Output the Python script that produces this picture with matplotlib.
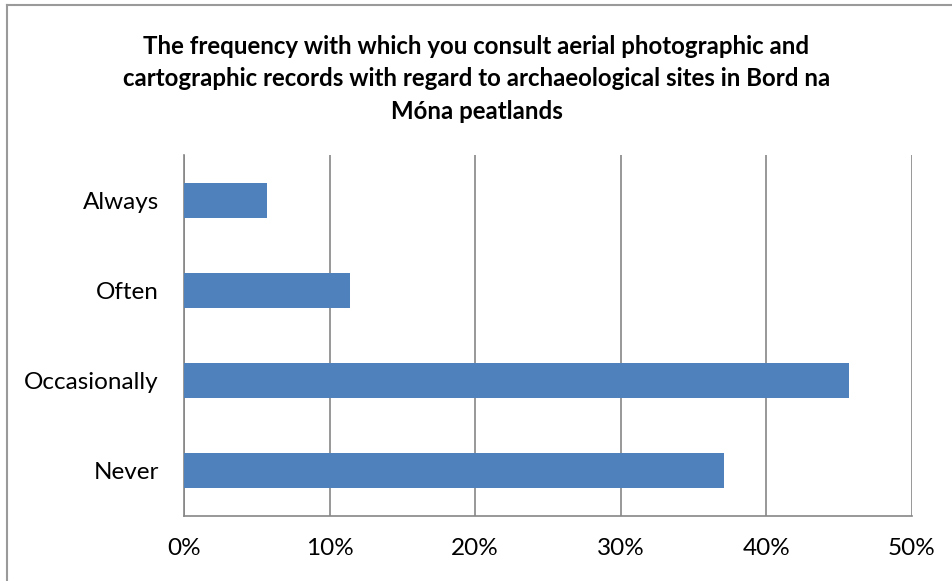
import matplotlib.pyplot as plt
from matplotlib.lines import Line2D
from matplotlib.ticker import PercentFormatter

# survey answers, share of respondents (%)
categories = ['Never', 'Occasionally', 'Often', 'Always']
shares = [37.1, 45.7, 11.4, 5.7]
xticks = [0, 10, 20, 30, 40, 50]

title = ('The frequency with which you consult aerial photographic and\n'
         'cartographic records with regard to archaeological sites in Bord na\n'
         'Móna peatlands')

plt.rcParams['font.family'] = ['Lato', 'DejaVu Sans']

W, H = 953, 581
fig = plt.figure(figsize=(W / 100, H / 100), dpi=100)
ax = fig.add_axes([184 / W, 1 - 516 / H, (912 - 184) / W, (516 - 155) / H])

ax.barh(categories, shares, height=0.39, color='#4F81BD', zorder=3)
ax.set_xlim(0, 50)
ax.set_ylim(-0.5, len(categories) - 0.5)
ax.set_xticks(xticks)
ax.xaxis.set_major_formatter(PercentFormatter(decimals=0))
ax.grid(axis='x', color='#868686', linewidth=1.2, zorder=0)

for s in ['top', 'right']:
    ax.spines[s].set_visible(False)
for s in ['left', 'bottom']:
    ax.spines[s].set_color('#868686')
    ax.spines[s].set_linewidth(1.2)

ax.tick_params(axis='both', length=0, labelsize=17.5, colors='black')
ax.tick_params(axis='x', pad=16)
ax.tick_params(axis='y', pad=18)

fig.text(0.5, 1 - 79 / H, title, ha='center', va='center', fontsize=17.3,
         fontweight='bold', linespacing=1.5)

# chart border (partly cropped in the original)
fig.add_artist(Line2D([7 / W, 7 / W], [0, 1 - 5 / H], color='#9a9a9a', lw=1.5))
fig.add_artist(Line2D([7 / W, 1], [1 - 5 / H, 1 - 5 / H], color='#9a9a9a', lw=1.5))

fig.savefig('out.png', dpi=100)
